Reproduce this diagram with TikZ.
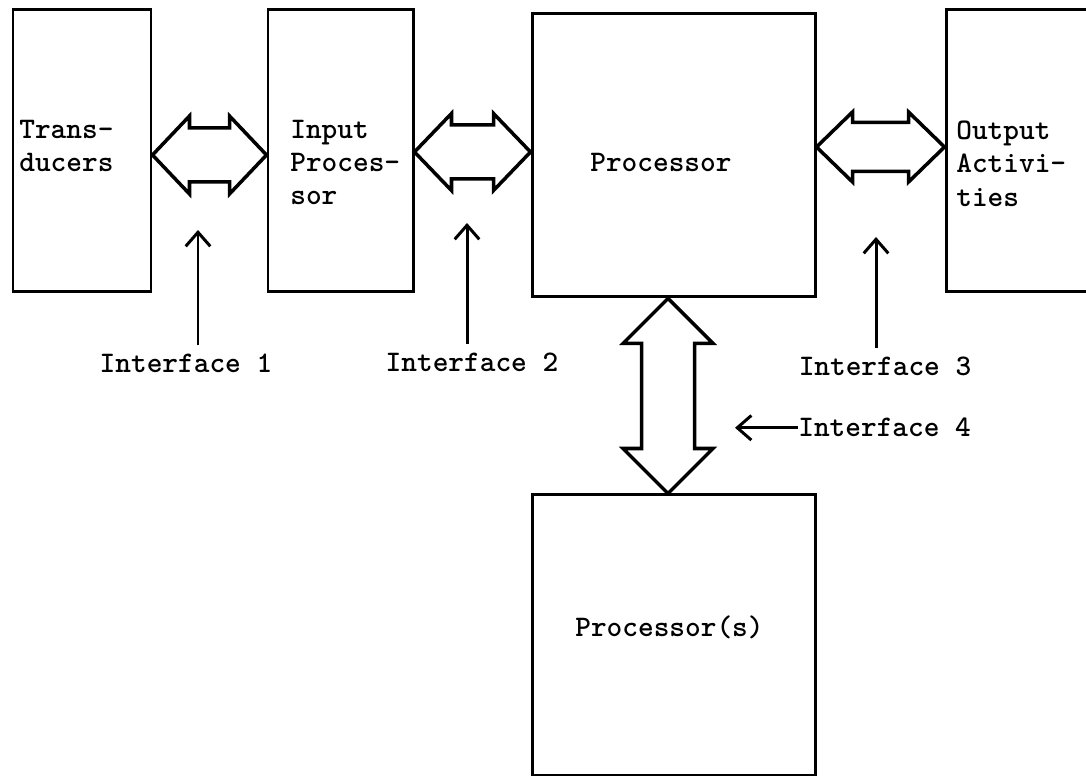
\documentclass[tikz,border=0pt]{standalone}
\usetikzlibrary{calc,arrows.meta}

\begin{document}
\begin{tikzpicture}[
	box/.style={draw,line width=1.7pt,inner sep=0pt},
	bus/.style={line width=2pt,line join=miter},
	txt/.style={font=\fontsize{17}{19}\ttfamily\fontseries{b}\selectfont,inner sep=0pt,align=left},
	lbl/.style={font=\fontsize{17}{19}\ttfamily\fontseries{b}\selectfont,inner xsep=0pt,inner ysep=5pt},
	iface/.style={line width=1.7pt,-{Straight Barb[length=8pt,width=14pt]}}
	]
	\useasboundingbox (0,0) rectangle (21.72,15.54);
	% Bloecke
	\node[box,minimum width=2.76cm,minimum height=5.64cm] (trans) at (1.64,12.52) {};
	\node[box,minimum width=2.90cm,minimum height=5.64cm] (inp) at (6.81,12.52) {};
	\node[box,minimum width=5.66cm,minimum height=5.66cm] (proc) at (13.47,12.43) {};
	\node[box,minimum width=3.40cm,minimum height=5.64cm] (out) at (20.62,12.52) {};
	\node[box,minimum width=5.66cm,minimum height=5.60cm] (procs) at (13.47,2.84) {};
	% Texte
	\node[txt,anchor=north west] at (0.38,13.15) {Trans-\\ducers};
	\node[txt,anchor=north west] at (5.80,13.15) {Input\\Proces-\\sor};
	\node[txt,anchor=base west] at (11.80,12.10) {Processor};
	\node[txt,anchor=north west] at (19.12,13.13) {Output\\Activi-\\ties};
	\node[txt,anchor=base west] at (11.50,2.80) {Processor(s)};
	% Busse
	\coordinate (y1) at (0,12.44);
	\coordinate (y2) at (0,12.50);
	\coordinate (y3) at (0,12.60);
	\coordinate (x4) at (13.36,0);
	\draw[bus] (trans.east |- y1) coordinate (a1) -- ++(0.74,0.78) -- ++(0,-0.24)
		-- ($(inp.west |- a1)+(-0.74,0.54)$) -- ++(0,0.24) -- (inp.west |- a1)
		-- ++(-0.74,-0.78) -- ++(0,0.24) -- ($(a1)+(0.74,-0.54)$) -- ++(0,-0.24) -- cycle;
	\draw[bus] (inp.east |- y2) coordinate (a2) -- ++(0.74,0.77) -- ++(0,-0.23)
		-- ($(proc.west |- a2)+(-0.74,0.54)$) -- ++(0,0.23) -- (proc.west |- a2)
		-- ++(-0.74,-0.77) -- ++(0,0.23) -- ($(a2)+(0.74,-0.54)$) -- ++(0,-0.23) -- cycle;
	\draw[bus] (proc.east |- y3) coordinate (a3) -- ++(0.72,0.70) -- ++(0,-0.21)
		-- ($(out.west |- a3)+(-0.72,0.49)$) -- ++(0,0.21) -- (out.west |- a3)
		-- ++(-0.72,-0.70) -- ++(0,0.21) -- ($(a3)+(0.72,-0.49)$) -- ++(0,-0.21) -- cycle;
	\draw[bus] (proc.south -| x4) coordinate (a4) -- ++(-0.9,-0.9) -- ++(0.37,0)
		-- ($(procs.north -| a4)+(-0.53,0.9)$) -- ++(-0.37,0) -- (procs.north -| a4)
		-- ++(0.9,0.9) -- ++(-0.37,0) -- ($(a4)+(0.53,-0.9)$) -- ++(0.37,0) -- cycle;
	% Schnittstellen
	\node[lbl,anchor=base] (if1) at (3.72,8.08) {Interface 1};
	\node[lbl,anchor=base] (if2) at (9.44,8.10) {Interface 2};
	\node[lbl,anchor=base] (if3) at (17.70,8.02) {Interface 3};
	\node[lbl,anchor=base west] (if4) at (15.96,6.80) {Interface 4};
	\coordinate (t1) at (3.96,10.94);
	\coordinate (t2) at (9.34,11.08);
	\coordinate (t3) at (17.52,10.80);
	\coordinate (t4) at (14.70,0);
	\draw[iface] (if1.north -| t1) -- (t1);
	\draw[iface] (if2.north -| t2) -- (t2);
	\draw[iface] (if3.north -| t3) -- (t3);
	\draw[iface] (if4.west) -- (if4.west -| t4);
\end{tikzpicture}
\end{document}
